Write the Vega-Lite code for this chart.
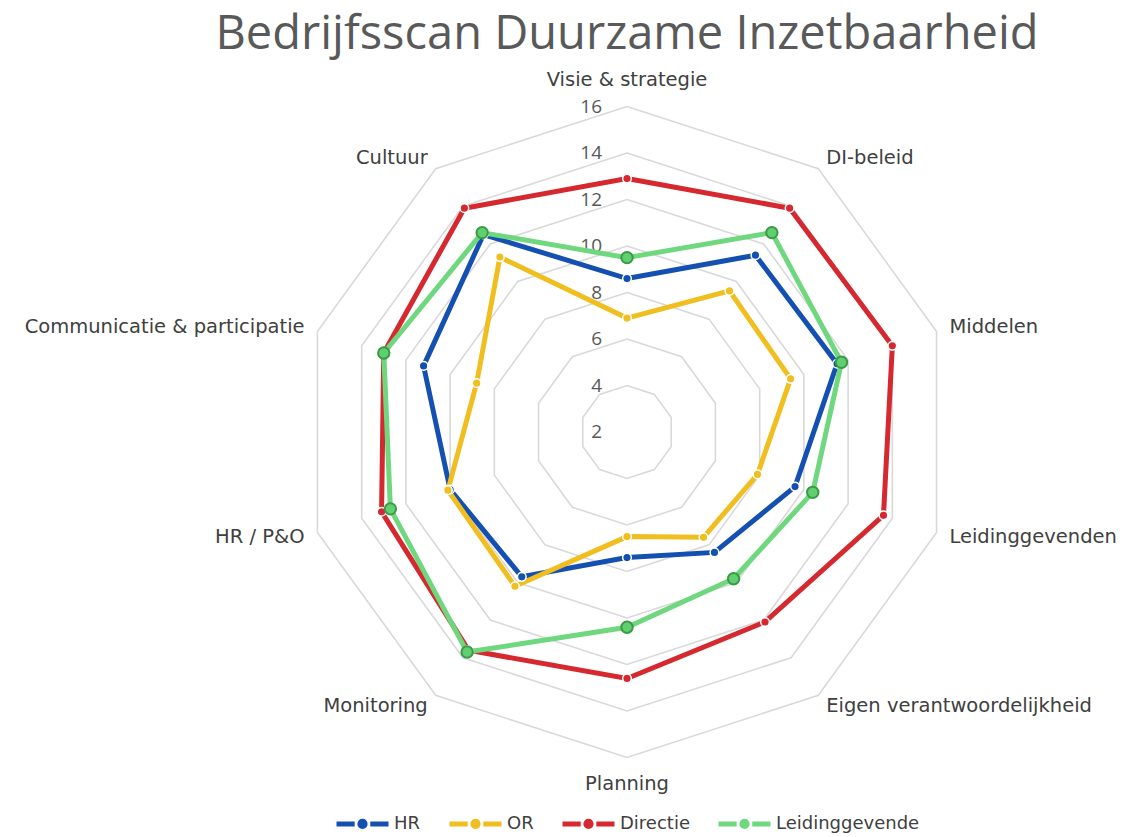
{
  "$schema": "https://vega.github.io/schema/vega-lite/v6.json",
  "width": 700,
  "height": 700,
  "autosize": {"type": "none"},
  "padding": {"left": 277, "top": 80, "right": 147, "bottom": 57},
  "background": "white",
  "title": {"text": "Bedrijfsscan Duurzame Inzetbaarheid", "font": "Open Sans", "fontSize": 47, "fontWeight": "normal", "color": "#595959", "anchor": "middle", "baseline": "alphabetic", "offset": -26},
  "config": {"view": {"stroke": null}},
  "datasets": {
    "scores": [
      {"reeks": "HR", "as": "Visie & strategie", "i": 0, "waarde": 8.6},
      {"reeks": "HR", "as": "DI-beleid", "i": 1, "waarde": 11.4},
      {"reeks": "HR", "as": "Middelen", "i": 2, "waarde": 11.5},
      {"reeks": "HR", "as": "Leidinggevenden", "i": 3, "waarde": 9.6},
      {"reeks": "HR", "as": "Eigen verantwoordelijkheid", "i": 4, "waarde": 8.4},
      {"reeks": "HR", "as": "Planning", "i": 5, "waarde": 7.4},
      {"reeks": "HR", "as": "Monitoring", "i": 6, "waarde": 9.7},
      {"reeks": "HR", "as": "HR / P&O", "i": 7, "waarde": 10.0},
      {"reeks": "HR", "as": "Communicatie & participatie", "i": 8, "waarde": 11.2},
      {"reeks": "HR", "as": "Cultuur", "i": 9, "waarde": 12.5},
      {"reeks": "OR", "as": "Visie & strategie", "i": 0, "waarde": 6.9},
      {"reeks": "OR", "as": "DI-beleid", "i": 1, "waarde": 9.5},
      {"reeks": "OR", "as": "Middelen", "i": 2, "waarde": 9.4},
      {"reeks": "OR", "as": "Leidinggevenden", "i": 3, "waarde": 7.9},
      {"reeks": "OR", "as": "Eigen verantwoordelijkheid", "i": 4, "waarde": 7.6},
      {"reeks": "OR", "as": "Planning", "i": 5, "waarde": 6.5},
      {"reeks": "OR", "as": "Monitoring", "i": 6, "waarde": 10.2},
      {"reeks": "OR", "as": "HR / P&O", "i": 7, "waarde": 10.1},
      {"reeks": "OR", "as": "Communicatie & participatie", "i": 8, "waarde": 8.8},
      {"reeks": "OR", "as": "Cultuur", "i": 9, "waarde": 11.3},
      {"reeks": "Directie", "as": "Visie & strategie", "i": 0, "waarde": 12.9},
      {"reeks": "Directie", "as": "DI-beleid", "i": 1, "waarde": 13.9},
      {"reeks": "Directie", "as": "Middelen", "i": 2, "waarde": 14.0},
      {"reeks": "Directie", "as": "Leidinggevenden", "i": 3, "waarde": 13.6},
      {"reeks": "Directie", "as": "Eigen verantwoordelijkheid", "i": 4, "waarde": 12.1},
      {"reeks": "Directie", "as": "Planning", "i": 5, "waarde": 12.6},
      {"reeks": "Directie", "as": "Monitoring", "i": 6, "waarde": 13.6},
      {"reeks": "Directie", "as": "HR / P&O", "i": 7, "waarde": 13.1},
      {"reeks": "Directie", "as": "Communicatie & participatie", "i": 8, "waarde": 13.0},
      {"reeks": "Directie", "as": "Cultuur", "i": 9, "waarde": 13.9},
      {"reeks": "Leidinggevende", "as": "Visie & strategie", "i": 0, "waarde": 9.5},
      {"reeks": "Leidinggevende", "as": "DI-beleid", "i": 1, "waarde": 12.6},
      {"reeks": "Leidinggevende", "as": "Middelen", "i": 2, "waarde": 11.7},
      {"reeks": "Leidinggevende", "as": "Leidinggevenden", "i": 3, "waarde": 10.4},
      {"reeks": "Leidinggevende", "as": "Eigen verantwoordelijkheid", "i": 4, "waarde": 9.8},
      {"reeks": "Leidinggevende", "as": "Planning", "i": 5, "waarde": 10.4},
      {"reeks": "Leidinggevende", "as": "Monitoring", "i": 6, "waarde": 13.7},
      {"reeks": "Leidinggevende", "as": "HR / P&O", "i": 7, "waarde": 12.7},
      {"reeks": "Leidinggevende", "as": "Communicatie & participatie", "i": 8, "waarde": 13.0},
      {"reeks": "Leidinggevende", "as": "Cultuur", "i": 9, "waarde": 12.6}
    ],
    "assen": [
      {"as": "Visie & strategie", "i": 0},
      {"as": "DI-beleid", "i": 1},
      {"as": "Middelen", "i": 2},
      {"as": "Leidinggevenden", "i": 3},
      {"as": "Eigen verantwoordelijkheid", "i": 4},
      {"as": "Planning", "i": 5},
      {"as": "Monitoring", "i": 6},
      {"as": "HR / P&O", "i": 7},
      {"as": "Communicatie & participatie", "i": 8},
      {"as": "Cultuur", "i": 9}
    ],
    "ringen": [
      {"r": 4, "k": [0, 1, 2, 3, 4, 5, 6, 7, 8, 9]},
      {"r": 6, "k": [0, 1, 2, 3, 4, 5, 6, 7, 8, 9]},
      {"r": 8, "k": [0, 1, 2, 3, 4, 5, 6, 7, 8, 9]},
      {"r": 10, "k": [0, 1, 2, 3, 4, 5, 6, 7, 8, 9]},
      {"r": 12, "k": [0, 1, 2, 3, 4, 5, 6, 7, 8, 9]},
      {"r": 14, "k": [0, 1, 2, 3, 4, 5, 6, 7, 8, 9]},
      {"r": 16, "k": [0, 1, 2, 3, 4, 5, 6, 7, 8, 9]}
    ],
    "ticks": [
      {"t": 2}, {"t": 4}, {"t": 6}, {"t": 8}, {"t": 10}, {"t": 12}, {"t": 14}, {"t": 16}
    ]
  },
  "encoding": {
    "x": {"field": "x", "type": "quantitative", "scale": {"domain": [-15.054, 15.054], "nice": false, "zero": false}, "axis": null},
    "y": {"field": "y", "type": "quantitative", "scale": {"domain": [-14.968, 15.14], "nice": false, "zero": false}, "axis": null}
  },
  "layer": [
    {
      "data": {"name": "ringen"},
      "transform": [
        {"flatten": ["k"]},
        {"calculate": "(datum.r - 2) * sin(datum.k * PI / 5)", "as": "x"},
        {"calculate": "(datum.r - 2) * cos(datum.k * PI / 5)", "as": "y"}
      ],
      "mark": {"type": "line", "interpolate": "linear-closed", "stroke": "#d9d9d9", "strokeWidth": 1.6},
      "encoding": {"detail": {"field": "r", "type": "nominal"}, "order": {"field": "k", "type": "quantitative"}}
    },
    {
      "data": {"name": "ticks"},
      "transform": [
        {"calculate": "0", "as": "x"},
        {"calculate": "datum.t - 2", "as": "y"}
      ],
      "mark": {"type": "text", "align": "right", "baseline": "middle", "dx": -25, "font": "Open Sans", "fontSize": 19, "color": "#595959"},
      "encoding": {"text": {"field": "t", "type": "quantitative"}}
    },
    {
      "data": {"name": "scores"},
      "transform": [
        {"calculate": "(datum.waarde - 2) * sin(datum.i * PI / 5)", "as": "x"},
        {"calculate": "(datum.waarde - 2) * cos(datum.i * PI / 5)", "as": "y"}
      ],
      "mark": {"type": "line", "interpolate": "linear-closed", "strokeWidth": 5},
      "encoding": {
        "color": {
          "field": "reeks", "type": "nominal",
          "scale": {"domain": ["HR", "OR", "Directie", "Leidinggevende"], "range": ["#1450b2", "#f0be1e", "#d6282f", "#6fd77e"]},
          "legend": {
            "orient": "none", "legendX": 57, "legendY": 715, "direction": "horizontal", "title": null, "padding": 0,
            "symbolType": "M-1,0L-0.3,0M0.3,0L1,0M-0.1,0A0.1,0.1 0 1,1 0.1,0A0.1,0.1 0 1,1 -0.1,0Z",
            "symbolSize": 2704, "symbolStrokeWidth": 5, "labelOffset": 3,
            "labelFont": "DejaVu Sans", "labelFontSize": 18, "labelColor": "#404040", "columnPadding": 18,
            "encode": {"symbols": {"update": {"fill": {"scale": "color", "field": "value"}}}}
          }
        },
        "detail": {"field": "reeks", "type": "nominal"},
        "order": {"field": "i", "type": "quantitative"}
      }
    },
    {
      "data": {"name": "scores"},
      "transform": [
        {"filter": "datum.reeks !== 'Leidinggevende'"},
        {"calculate": "(datum.waarde - 2) * sin(datum.i * PI / 5)", "as": "x"},
        {"calculate": "(datum.waarde - 2) * cos(datum.i * PI / 5)", "as": "y"}
      ],
      "mark": {"type": "point", "filled": true, "size": 75, "stroke": "#ffffff", "strokeWidth": 1.5, "opacity": 1},
      "encoding": {"fill": {"field": "reeks", "type": "nominal", "scale": {"domain": ["HR", "OR", "Directie", "Leidinggevende"], "range": ["#1450b2", "#f0be1e", "#d6282f", "#6fd77e"]}, "legend": null}}
    },
    {
      "data": {"name": "scores"},
      "transform": [
        {"filter": "datum.reeks === 'Leidinggevende'"},
        {"calculate": "(datum.waarde - 2) * sin(datum.i * PI / 5)", "as": "x"},
        {"calculate": "(datum.waarde - 2) * cos(datum.i * PI / 5)", "as": "y"}
      ],
      "mark": {"type": "point", "filled": true, "size": 130, "fill": "#5fcf6f", "stroke": "#3a9a46", "strokeWidth": 2, "opacity": 1}
    },
    {
      "data": {"name": "assen"},
      "transform": [
        {"filter": "datum.i === 0 || datum.i === 5"},
        {"calculate": "15.12 * sin(datum.i * PI / 5)", "as": "x"},
        {"calculate": "15.12 * cos(datum.i * PI / 5)", "as": "y"}
      ],
      "mark": {"type": "text", "align": "center", "baseline": "middle", "font": "DejaVu Sans", "fontSize": 19.5, "color": "#404040"},
      "encoding": {"text": {"field": "as", "type": "nominal"}}
    },
    {
      "data": {"name": "assen"},
      "transform": [
        {"filter": "datum.i >= 1 && datum.i <= 4"},
        {"calculate": "14.58 * sin(datum.i * PI / 5)", "as": "x"},
        {"calculate": "14.58 * cos(datum.i * PI / 5)", "as": "y"}
      ],
      "mark": {"type": "text", "align": "left", "baseline": "middle", "font": "DejaVu Sans", "fontSize": 19.5, "color": "#404040"},
      "encoding": {"text": {"field": "as", "type": "nominal"}}
    },
    {
      "data": {"name": "assen"},
      "transform": [
        {"filter": "datum.i >= 6"},
        {"calculate": "14.58 * sin(datum.i * PI / 5)", "as": "x"},
        {"calculate": "14.58 * cos(datum.i * PI / 5)", "as": "y"}
      ],
      "mark": {"type": "text", "align": "right", "baseline": "middle", "font": "DejaVu Sans", "fontSize": 19.5, "color": "#404040"},
      "encoding": {"text": {"field": "as", "type": "nominal"}}
    }
  ]
}
